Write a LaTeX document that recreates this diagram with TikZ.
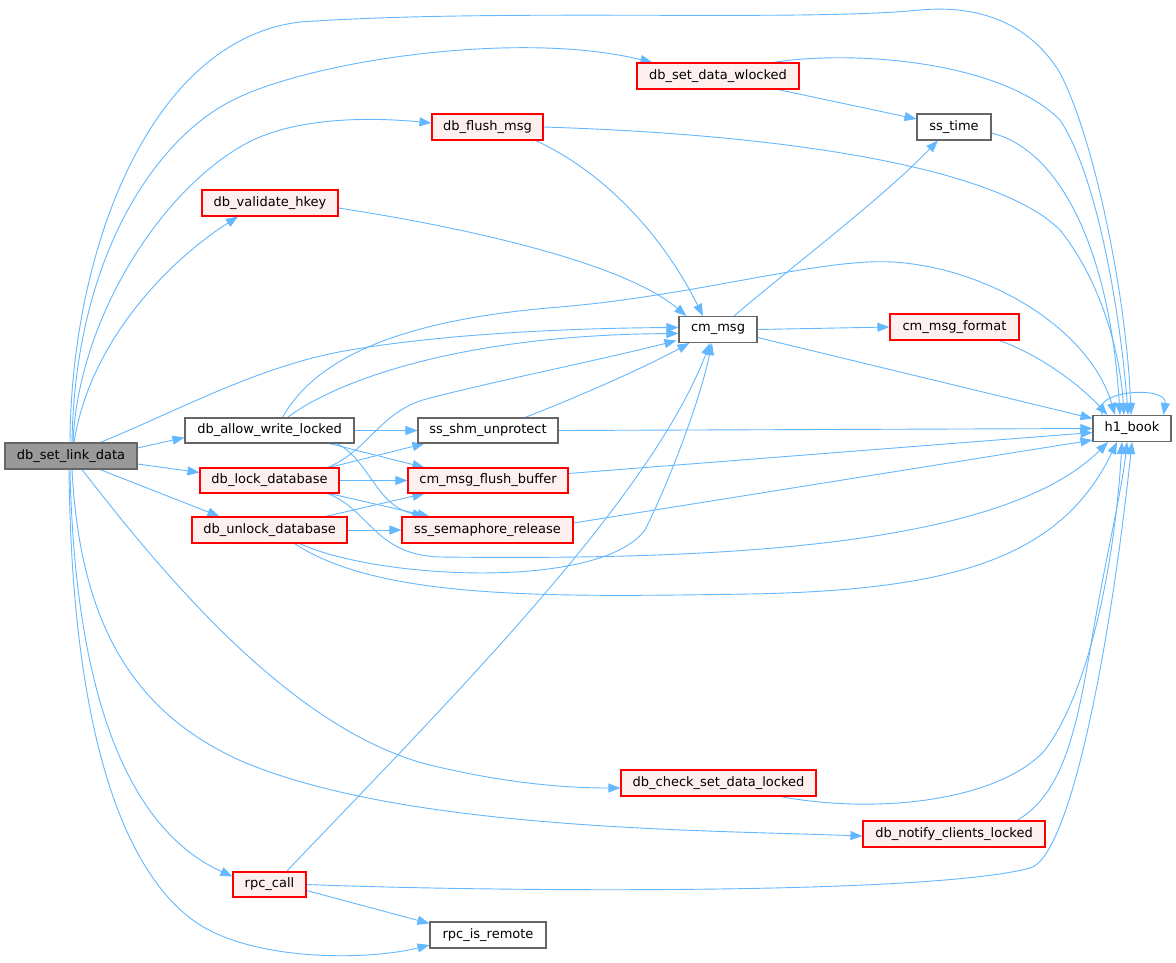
\documentclass[tikz,border=0pt]{standalone}
\usepackage{fontspec}
\setmainfont{DejaVu Sans}
\usetikzlibrary{arrows.meta,calc}
\definecolor{edgeblue}{HTML}{63B8FF}
\definecolor{redfill}{HTML}{FFF0F0}
\definecolor{greyfill}{HTML}{999999}
\definecolor{greyborder}{HTML}{666666}
\pgfdeclarelayer{edges}
\pgfsetlayers{edges,main}
\begin{document}
\begin{tikzpicture}[x=1pt,y=-1pt,
  fn/.style={rectangle,inner sep=0pt,minimum height=26pt,line width=1.1pt,font=\fontsize{13}{15}\selectfont,text=black},
  redbox/.style={fn,draw=red,fill=redfill},
  whitebox/.style={fn,draw=greyborder,fill=white},
  greybox/.style={fn,draw=greyborder,fill=greyfill},
  e/.style={draw=edgeblue,line width=0.9pt,-{Triangle[length=12pt,width=9pt]}}]
\useasboundingbox (0,0) rectangle (1176,962);

% nodes
\node[greybox,minimum width=132pt] (S) at (71,456) {db\_set\_link\_data};
\node[whitebox,minimum width=169pt,minimum height=25pt] (AW) at (269.5,430.5) {db\_allow\_write\_locked};
\node[redbox,minimum width=139pt,minimum height=25pt] (LD) at (269.5,480.5) {db\_lock\_database};
\node[redbox,minimum width=155pt] (UD) at (269.5,530) {db\_unlock\_database};
\node[whitebox,minimum width=140pt,minimum height=25pt] (SU) at (488,430.5) {ss\_shm\_unprotect};
\node[redbox,minimum width=160pt,minimum height=25pt] (FB) at (488,480.5) {cm\_msg\_flush\_buffer};
\node[redbox,minimum width=171pt] (SR) at (487.5,530) {ss\_semaphore\_release};
\node[whitebox,minimum width=78pt] (CM) at (718,329.5) {cm\_msg};
\node[redbox,minimum width=129pt] (CF) at (954.5,327) {cm\_msg\_format};
\node[whitebox,minimum width=78pt] (HB) at (1132,428.5) {h1\_book};
\node[redbox,minimum width=162pt] (SW) at (718,76) {db\_set\_data\_wlocked};
\node[whitebox,minimum width=74pt] (ST) at (954,127) {ss\_time};
\node[redbox,minimum width=111pt] (FM) at (487.5,127) {db\_flush\_msg};
\node[redbox,minimum width=136pt] (VH) at (270,203) {db\_validate\_hkey};
\node[redbox,minimum width=195pt] (CS) at (718.5,783) {db\_check\_set\_data\_locked};
\node[redbox,minimum width=182pt] (NC) at (954,834) {db\_notify\_clients\_locked};
\node[redbox,minimum width=73pt,minimum height=25pt] (RC) at (269.5,884.5) {rpc\_call};
\node[whitebox,minimum width=116pt] (RR) at (488,935) {rpc\_is\_remote};

\begin{pgfonlayer}{edges}
\fill[white] (0,0) rectangle (1176,962);
% edges from db_set_link_data
\draw[e] ($(S.north)+(-1,0)$) .. controls (71,250) and (150,40) .. (300,22) .. controls (500,8) and (800,22) .. (920,10) .. controls (1000,3) and (1040,40) .. (1060,73) .. controls (1095,140) and (1127,300) .. ($(HB.north)+(-1,0)$);
\draw[e] ($(S.north)+(1,0)$) .. controls (75,260) and (153,140) .. (233,100) .. controls (313,60) and (520,30) .. ($(SW.north west)+(16,0)$);
\draw[e] ($(S.north)+(2,0)$) .. controls (78,320) and (160,190) .. (247,143) .. controls (300,115) and (380,118) .. ($(FM.west)+(0,-4)$);
\draw[e] ($(S.north)+(3,0)$) .. controls (90,340) and (170,260) .. ($(VH.south)+(-32,0)$);
\draw[e] ($(S.north)+(29,0)$) .. controls (180,410) and (260,365) .. (350,350) .. controls (450,333) and (580,328) .. ($(CM.west)+(0,-2)$);
\draw[e] ($(S.east)+(0,-8)$) -- ($(AW.west)+(0,7)$);
\draw[e] ($(S.east)+(0,8)$) -- ($(LD.west)+(0,-8)$);
\draw[e] ($(S.south)+(29,0)$) -- ($(UD.north)+(-50,0)$);
\draw[e] ($(S.south)+(11,0)$) .. controls (160,570) and (290,730) .. (430,765) .. controls (500,782) and (560,788) .. ($(CS.west)+(0,5)$);
\draw[e] ($(S.south)+(1,0)$) .. controls (80,620) and (130,710) .. (239,760) .. controls (400,830) and (700,830) .. ($(NC.west)+(0,2)$);
\draw[e] ($(S.south)+(-1,0)$) .. controls (75,700) and (130,830) .. ($(RC.west)+(0,-8)$);
\draw[e] ($(S.south)+(-2,0)$) .. controls (72,750) and (130,880) .. (200,925) .. controls (260,962) and (370,960) .. ($(RR.west)+(0,10)$);

% db_allow_write_locked
\draw[e] (AW.east) -- (SU.west);
\draw[e] ($(AW.south)+(60,0)$) -- ($(FB.north west)+(17,0)$);
\draw[e] ($(AW.south)+(67,0)$) .. controls (370,460) and (375,505) .. ($(SR.north west)+(23,0)$);
\draw[e] ($(AW.north)+(18,0)$) .. controls (330,385) and (450,335) .. ($(CM.west)+(0,4)$);
\draw[e] ($(AW.north)+(13,0)$) .. controls (320,350) and (420,318) .. (560,307) .. controls (700,295) and (820,258) .. (893,262) .. controls (990,268) and (1090,330) .. ($(HB.north)+(-17,0)$);

% db_lock_database
\draw[e] (LD.east) -- (FB.west);
\draw[e] ($(LD.north east)+(-10,0)$) -- ($(SU.south west)+(7,0)$);
\draw[e] ($(LD.south east)+(-10,0)$) -- ($(SR.north west)+(28,0)$);
\draw[e] ($(LD.north east)+(-12,0)$) .. controls (370,450) and (380,410) .. (430,398) .. controls (500,380) and (600,360) .. ($(CM.south west)+(-2,-2.5)$);
\draw[e] ($(LD.south east)+(-12,0)$) .. controls (370,510) and (375,555) .. (440,557) .. controls (700,560) and (1000,550) .. ($(HB.south)+(-24,0)$);

% db_unlock_database
\draw[e] (UD.east) -- (SR.west);
\draw[e] ($(UD.north east)+(-22,0)$) -- ($(FB.south west)+(17,0)$);
\draw[e] ($(UD.south)+(30,0)$) .. controls (380,580) and (600,590) .. (645,530) .. controls (670,480) and (700,400) .. ($(CM.south)+(-6,0)$);
\draw[e] ($(UD.south)+(25,0)$) .. controls (380,600) and (550,597) .. (750,594) .. controls (950,590) and (1060,560) .. ($(HB.south)+(-15,0)$);

% ss_shm_unprotect, cm_msg_flush_buffer, ss_semaphore_release
\draw[e] (SU.east) -- (HB.west);
\draw[e] ($(SU.north)+(37,0)$) .. controls (570,400) and (640,370) .. ($(CM.south west)+(11,0)$);
\draw[e] ($(FB.east)+(0,-7)$) -- ($(HB.west)+(0,4)$);
\draw[e] ($(SR.east)+(0,-7)$) -- ($(HB.south west)+(0,-2)$);

% cm_msg
\draw[e] (CM.east) -- (CF.west);
\draw[e] ($(CM.north)+(16,0)$) .. controls (800,260) and (880,200) .. ($(ST.south)+(-16,0)$);
\draw[e] ($(CM.east)+(0,8)$) -- ($(HB.west)+(0,-10)$);

% upper nodes
\draw[e] ($(CF.south)+(45,0)$) .. controls (1040,355) and (1080,385) .. ($(HB.north west)+(15,0)$);
\draw[e] ($(ST.east)+(0,6)$) .. controls (1060,150) and (1110,250) .. ($(HB.north)+(-12,0)$);
\draw[e] (FM.east) .. controls (800,135) and (1000,170) .. (1060,230) .. controls (1100,280) and (1120,350) .. ($(HB.north)+(-8,0)$);
\draw[e] ($(SW.south)+(60,0)$) -- ($(ST.west)+(0,-8)$);
\draw[e] ($(SW.north)+(55,0)$) .. controls (850,50) and (1000,60) .. (1060,120) .. controls (1100,180) and (1122,330) .. ($(HB.north)+(-4,0)$);
\draw[e] ($(FM.south east)+(-8,0)$) .. controls (600,170) and (660,230) .. ($(CM.north)+(-15,0)$);
\draw[e] ($(VH.east)+(0,5)$) .. controls (450,225) and (620,260) .. ($(CM.north west)+(8,0)$);
\draw[e] ($(HB.north west)+(10,0)$) .. controls (1088,390) and (1168,385) .. ($(HB.north east)+(-8,0)$);

% lower nodes
\draw[e] ($(CS.south)+(62,0)$) .. controls (880,815) and (1000,800) .. (1045,750) .. controls (1090,690) and (1115,560) .. ($(HB.south)+(-10,0)$);
\draw[e] ($(NC.north)+(63,0)$) .. controls (1060,795) and (1075,740) .. (1090,650) .. controls (1105,560) and (1122,490) .. ($(HB.south)+(-5,0)$);
\draw[e] (RC.east) .. controls (500,892) and (930,895) .. (1030,868) .. controls (1070,857) and (1110,650) .. (HB.south);
\draw[e] ($(RC.north)+(17,0)$) .. controls (450,700) and (650,500) .. ($(CM.south)+(-8,0)$);
\draw[e] ($(RC.east)+(0,6)$) -- ($(RR.north west)+(0,2)$);
\end{pgfonlayer}
\end{tikzpicture}
\end{document}
